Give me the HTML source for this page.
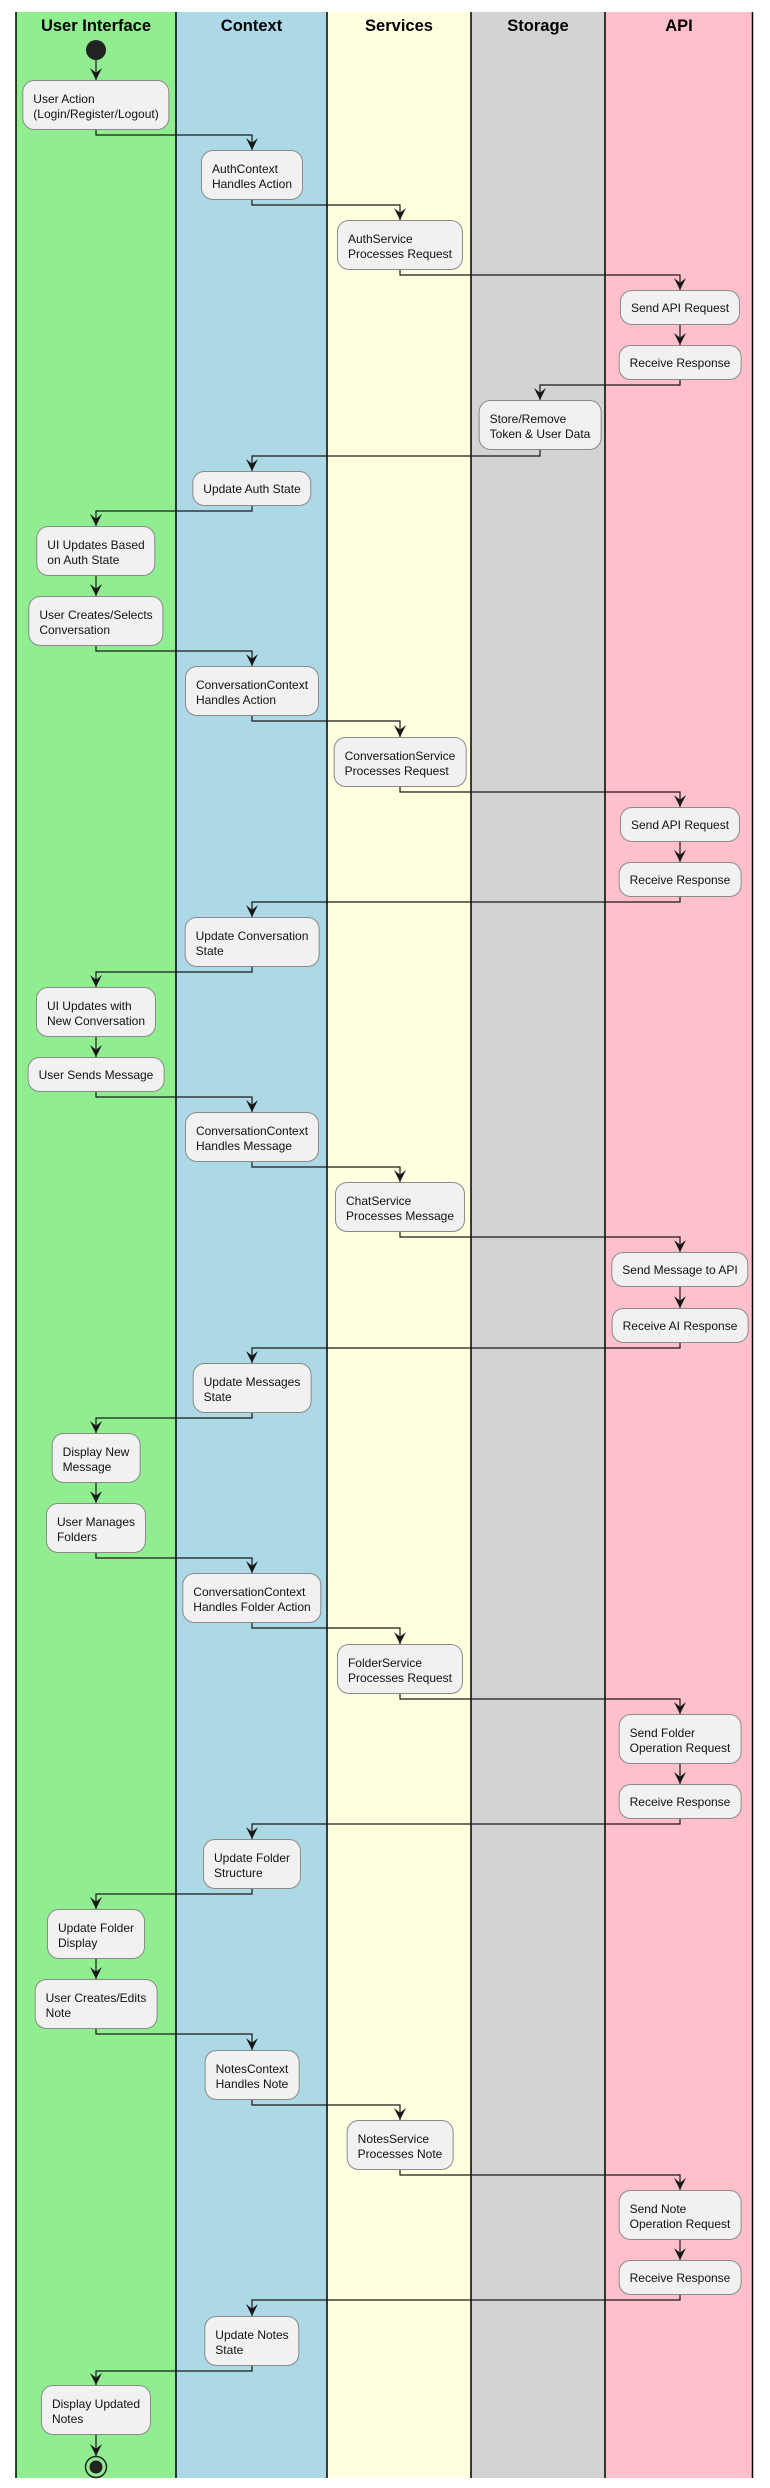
<!DOCTYPE html>
<html><head><meta charset="utf-8"><style>
body{margin:0;width:770px;height:2488px;background:#fff;position:relative;overflow:hidden;font-family:"Liberation Sans",sans-serif}
.lane{position:absolute;top:12px;height:2466px}
.hd{position:absolute;top:12px;height:28px;line-height:28px;font-size:16.5px;font-weight:bold;text-align:center;color:#000}
.b{position:absolute;transform:translateX(-50%);background:#F1F1F1;border:1px solid #8a8a8a;border-radius:12px;font-size:12px;line-height:15px;white-space:pre;padding:0 10px;box-sizing:border-box;color:#111}
.t2{height:50px;padding-top:11px}
.t1{height:35px;padding-top:10px}
svg{position:absolute;left:0;top:0}
</style></head><body>
<div class="lane" style="left:16px;width:160px;background:#90EE90"></div>
<div class="lane" style="left:176px;width:151px;background:#ADD8E6"></div>
<div class="lane" style="left:327px;width:144px;background:#FFFFE0"></div>
<div class="lane" style="left:471px;width:134px;background:#D3D3D3"></div>
<div class="lane" style="left:605px;width:148px;background:#FFC0CB"></div>
<div class="hd" style="left:16px;width:160px">User Interface</div>
<div class="hd" style="left:176px;width:151px">Context</div>
<div class="hd" style="left:327px;width:144px">Services</div>
<div class="hd" style="left:471px;width:134px">Storage</div>
<div class="hd" style="left:605px;width:148px">API</div>

<div class="b t2" style="left:96px;top:80px">User Action
(Login/Register/Logout)</div>
<div class="b t2" style="left:252px;top:150px">AuthContext
Handles Action</div>
<div class="b t2" style="left:400px;top:220px">AuthService
Processes Request</div>
<div class="b t1" style="left:680px;top:290px">Send API Request</div>
<div class="b t1" style="left:680px;top:345px">Receive Response</div>
<div class="b t2" style="left:540px;top:400px">Store/Remove
Token &amp; User Data</div>
<div class="b t1" style="left:252px;top:471px">Update Auth State</div>
<div class="b t2" style="left:96px;top:526px">UI Updates Based
on Auth State</div>
<div class="b t2" style="left:96px;top:596px">User Creates/Selects
Conversation</div>
<div class="b t2" style="left:252px;top:666px">ConversationContext
Handles Action</div>
<div class="b t2" style="left:400px;top:737px">ConversationService
Processes Request</div>
<div class="b t1" style="left:680px;top:807px">Send API Request</div>
<div class="b t1" style="left:680px;top:862px">Receive Response</div>
<div class="b t2" style="left:252px;top:917px">Update Conversation
State</div>
<div class="b t2" style="left:96px;top:987px">UI Updates with
New Conversation</div>
<div class="b t1" style="left:96px;top:1057px">User Sends Message</div>
<div class="b t2" style="left:252px;top:1112px">ConversationContext
Handles Message</div>
<div class="b t2" style="left:400px;top:1182px">ChatService
Processes Message</div>
<div class="b t1" style="left:680px;top:1252px">Send Message to API</div>
<div class="b t1" style="left:680px;top:1308px">Receive AI Response</div>
<div class="b t2" style="left:252px;top:1363px">Update Messages
State</div>
<div class="b t2" style="left:96px;top:1433px">Display New
Message</div>
<div class="b t2" style="left:96px;top:1503px">User Manages
Folders</div>
<div class="b t2" style="left:252px;top:1573px">ConversationContext
Handles Folder Action</div>
<div class="b t2" style="left:400px;top:1644px">FolderService
Processes Request</div>
<div class="b t2" style="left:680px;top:1714px">Send Folder
Operation Request</div>
<div class="b t1" style="left:680px;top:1784px">Receive Response</div>
<div class="b t2" style="left:252px;top:1839px">Update Folder
Structure</div>
<div class="b t2" style="left:96px;top:1909px">Update Folder
Display</div>
<div class="b t2" style="left:96px;top:1979px">User Creates/Edits
Note</div>
<div class="b t2" style="left:252px;top:2050px">NotesContext
Handles Note</div>
<div class="b t2" style="left:400px;top:2120px">NotesService
Processes Note</div>
<div class="b t2" style="left:680px;top:2190px">Send Note
Operation Request</div>
<div class="b t1" style="left:680px;top:2260px">Receive Response</div>
<div class="b t2" style="left:252px;top:2316px">Update Notes
State</div>
<div class="b t2" style="left:96px;top:2385px">Display Updated
Notes</div>

<svg width="770" height="2488" viewBox="0 0 770 2488">
<defs><marker id="a" markerUnits="userSpaceOnUse" markerWidth="12" markerHeight="12" viewBox="0 0 10 10" refX="10" refY="5" orient="auto"><path d="M0,0 L10,5 L0,10 L4,5 z" fill="#181818"/></marker></defs>
<g stroke="#000" stroke-width="1.5" fill="none">
<line x1="16" y1="12" x2="16" y2="2478"/><line x1="176" y1="12" x2="176" y2="2478"/><line x1="327" y1="12" x2="327" y2="2478"/><line x1="471" y1="12" x2="471" y2="2478"/><line x1="605" y1="12" x2="605" y2="2478"/><line x1="752.5" y1="12" x2="752.5" y2="2478"/>
</g>
<g stroke="#181818" stroke-width="1.2" fill="none" marker-end="url(#a)">
<path d="M96 60V80"/>
<path d="M96 130V135H252V150"/>
<path d="M252 200V205H400V220"/>
<path d="M400 270V275H680V290"/>
<path d="M680 325V345"/>
<path d="M680 380V385H540V400"/>
<path d="M540 450V456H252V471"/>
<path d="M252 506V511H96V526"/>
<path d="M96 576V596"/>
<path d="M96 646V651H252V666"/>
<path d="M252 716V721H400V737"/>
<path d="M400 787V792H680V807"/>
<path d="M680 842V862"/>
<path d="M680 897V902H252V917"/>
<path d="M252 967V972H96V987"/>
<path d="M96 1037V1057"/>
<path d="M96 1092V1097H252V1112"/>
<path d="M252 1162V1167H400V1182"/>
<path d="M400 1232V1237H680V1252"/>
<path d="M680 1287V1308"/>
<path d="M680 1343V1348H252V1363"/>
<path d="M252 1413V1418H96V1433"/>
<path d="M96 1483V1503"/>
<path d="M96 1553V1558H252V1573"/>
<path d="M252 1623V1628H400V1644"/>
<path d="M400 1694V1699H680V1714"/>
<path d="M680 1764V1784"/>
<path d="M680 1819V1824H252V1839"/>
<path d="M252 1889V1894H96V1909"/>
<path d="M96 1959V1979"/>
<path d="M96 2029V2034H252V2050"/>
<path d="M252 2100V2105H400V2120"/>
<path d="M400 2170V2175H680V2190"/>
<path d="M680 2240V2260"/>
<path d="M680 2295V2300H252V2316"/>
<path d="M252 2366V2371H96V2385"/>
<path d="M96 2435V2456"/>
</g>
<circle cx="96" cy="50" r="10" fill="#222"/>
<circle cx="96" cy="2467" r="10.5" fill="none" stroke="#222" stroke-width="1.5"/>
<circle cx="96" cy="2467" r="6.5" fill="#222"/>
</svg>
</body></html>
